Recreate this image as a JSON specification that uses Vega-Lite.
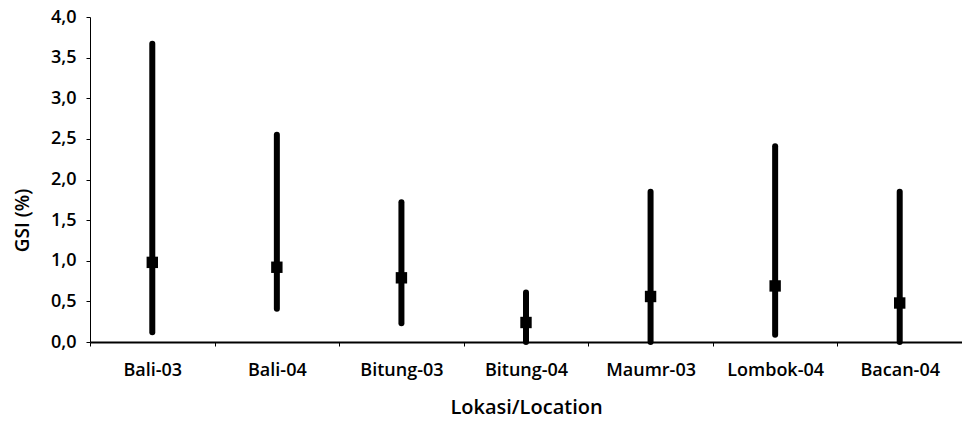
{
  "$schema": "https://vega.github.io/schema/vega-lite/v6.json",
  "autosize": {"type": "none"},
  "padding": {"left": 90, "top": 17, "right": 0, "bottom": 79},
  "width": 872,
  "height": 325,
  "background": "white",
  "config": {"view": {"stroke": null}, "font": "Open Sans"},
  "data": {"values": [
    {"loc": "Bali-03", "min": 0.12, "max": 3.67, "mean": 0.98},
    {"loc": "Bali-04", "min": 0.41, "max": 2.55, "mean": 0.92},
    {"loc": "Bitung-03", "min": 0.23, "max": 1.72, "mean": 0.79},
    {"loc": "Bitung-04", "min": 0.0, "max": 0.61, "mean": 0.24},
    {"loc": "Maumr-03", "min": 0.0, "max": 1.85, "mean": 0.56},
    {"loc": "Lombok-04", "min": 0.09, "max": 2.41, "mean": 0.69},
    {"loc": "Bacan-04", "min": 0.0, "max": 1.85, "mean": 0.48}
  ]},
  "encoding": {
    "x": {
      "field": "loc", "type": "nominal", "sort": null,
      "scale": {"paddingInner": 0, "paddingOuter": 0},
      "axis": {
        "title": "Lokasi/Location", "labelAngle": 0, "tickBand": "extent",
        "domainColor": "black", "domainWidth": 2, "tickColor": "black", "tickSize": 4, "tickWidth": 1,
        "labelFont": "Open Sans", "labelFontSize": 18, "labelFontWeight": 600, "labelColor": "black", "labelPadding": 15,
        "titleFont": "Open Sans", "titleFontSize": 20, "titleFontWeight": 600, "titleColor": "black",
        "titlePadding": 18
      }
    }
  },
  "layer": [
    {
      "mark": {"type": "rule", "strokeWidth": 6, "strokeCap": "round", "color": "black"},
      "encoding": {
        "y": {
          "field": "min", "type": "quantitative",
          "scale": {"domain": [0, 4], "nice": false},
          "axis": {
            "title": "GSI (%)", "values": [0, 0.5, 1, 1.5, 2, 2.5, 3, 3.5, 4],
            "format": ".1f", "labelExpr": "replace(datum.label, '.', ',')",
            "grid": false, "domainColor": "black", "domainWidth": 1, "tickColor": "black", "tickSize": 4,
            "labelFont": "Open Sans", "labelFontSize": 18, "labelFontWeight": 600, "labelColor": "black", "labelPadding": 10,
            "titleFont": "Open Sans", "titleFontSize": 19, "titleFontWeight": 600, "titleColor": "black",
            "titlePadding": 18, "titleY": 203
          }
        },
        "y2": {"field": "max"}
      }
    },
    {
      "mark": {"type": "square", "size": 130, "color": "black", "opacity": 1, "filled": true},
      "encoding": {"y": {"field": "mean", "type": "quantitative"}}
    }
  ]
}
